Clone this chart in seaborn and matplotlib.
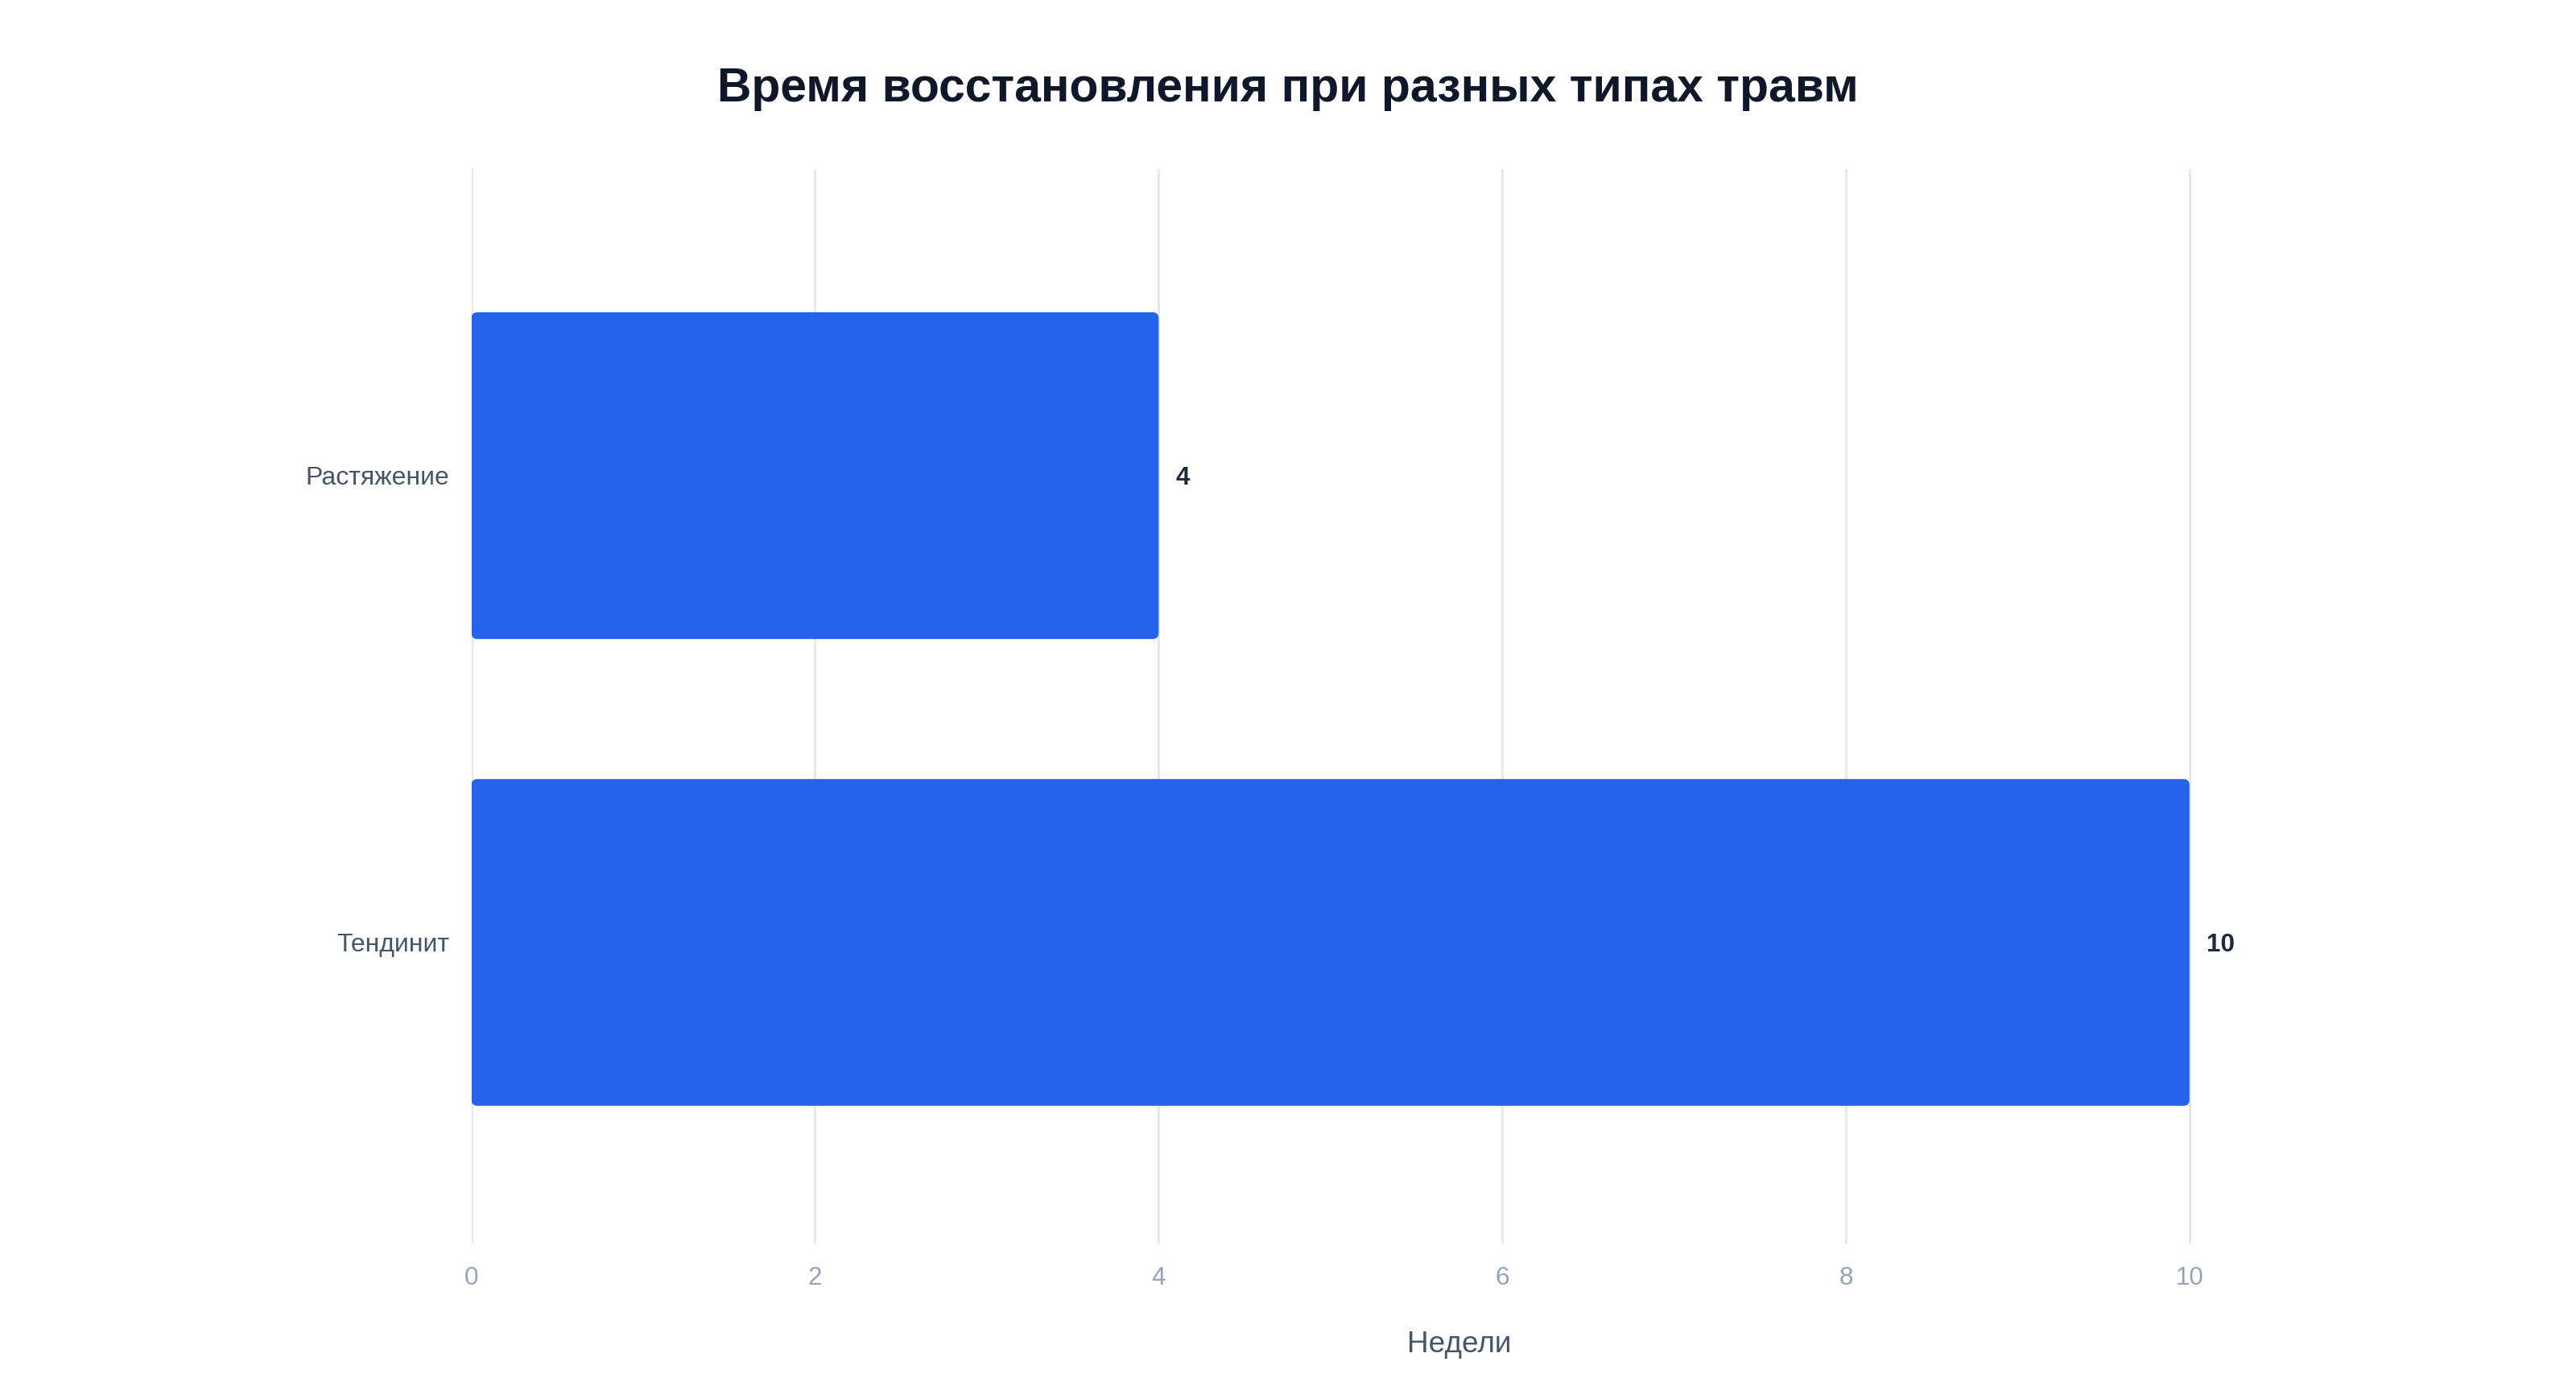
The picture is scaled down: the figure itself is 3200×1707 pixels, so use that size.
import matplotlib
matplotlib.use("Agg")
import matplotlib.pyplot as plt
import pandas as pd
import seaborn as sns
from matplotlib.patches import FancyBboxPatch

# data
injuries = ["Растяжение", "Тендинит"]
weeks = [4, 10]
x_ticks = [0, 2, 4, 6, 8, 10]

df = pd.DataFrame({"injury": injuries, "weeks": weeks})

sns.set_style("white")
plt.rcParams["font.family"] = ["Liberation Sans", "DejaVu Sans"]

fig = plt.figure(figsize=(16, 8.535), dpi=200)
ax = fig.add_axes([0.183, 0.095, 0.767, 0.782])

sns.barplot(data=df, y="injury", x="weeks", orient="h", color="#2563EB",
            width=0.7, saturation=1, ax=ax)

# swap plain bars for slightly rounded ones
for p in list(ax.patches):
    x0, y0 = p.get_x(), p.get_y()
    w, h = p.get_width(), p.get_height()
    rb = FancyBboxPatch((x0, y0), w, h,
                        boxstyle="round,pad=0,rounding_size=0.035",
                        mutation_aspect=0.37,
                        facecolor="#2563EB", edgecolor="none", zorder=2)
    p.remove()
    ax.add_patch(rb)

for i, v in enumerate(weeks):
    ax.text(v + 0.1, i, str(v), va="center_baseline", ha="left",
            fontsize=11.3, fontweight="bold", color="#1e293b")

ax.set_xlim(0, 11.5)
ax.set_ylim(1.645, -0.657)
ax.set_xticks(x_ticks)
ax.set_xticklabels([str(t) for t in x_ticks])
ax.grid(axis="x", color="#e2e8f0", linewidth=1)
ax.set_axisbelow(True)
for s in ax.spines.values():
    s.set_visible(False)

ax.tick_params(axis="x", length=0, pad=10, labelsize=11.3, labelcolor="#94a3b8")
ax.tick_params(axis="y", length=0, pad=10, labelsize=11.5, labelcolor="#475569")
ax.set_ylabel("")
ax.set_xlabel("Недели", fontsize=13.3, color="#475569", labelpad=18)

fig.text(0.5, 0.935, "Время восстановления при разных типах травм",
         ha="center", va="center", fontsize=21.2, fontweight="bold", color="#0f172a")

fig.savefig("out.png", dpi=200, facecolor="white")
